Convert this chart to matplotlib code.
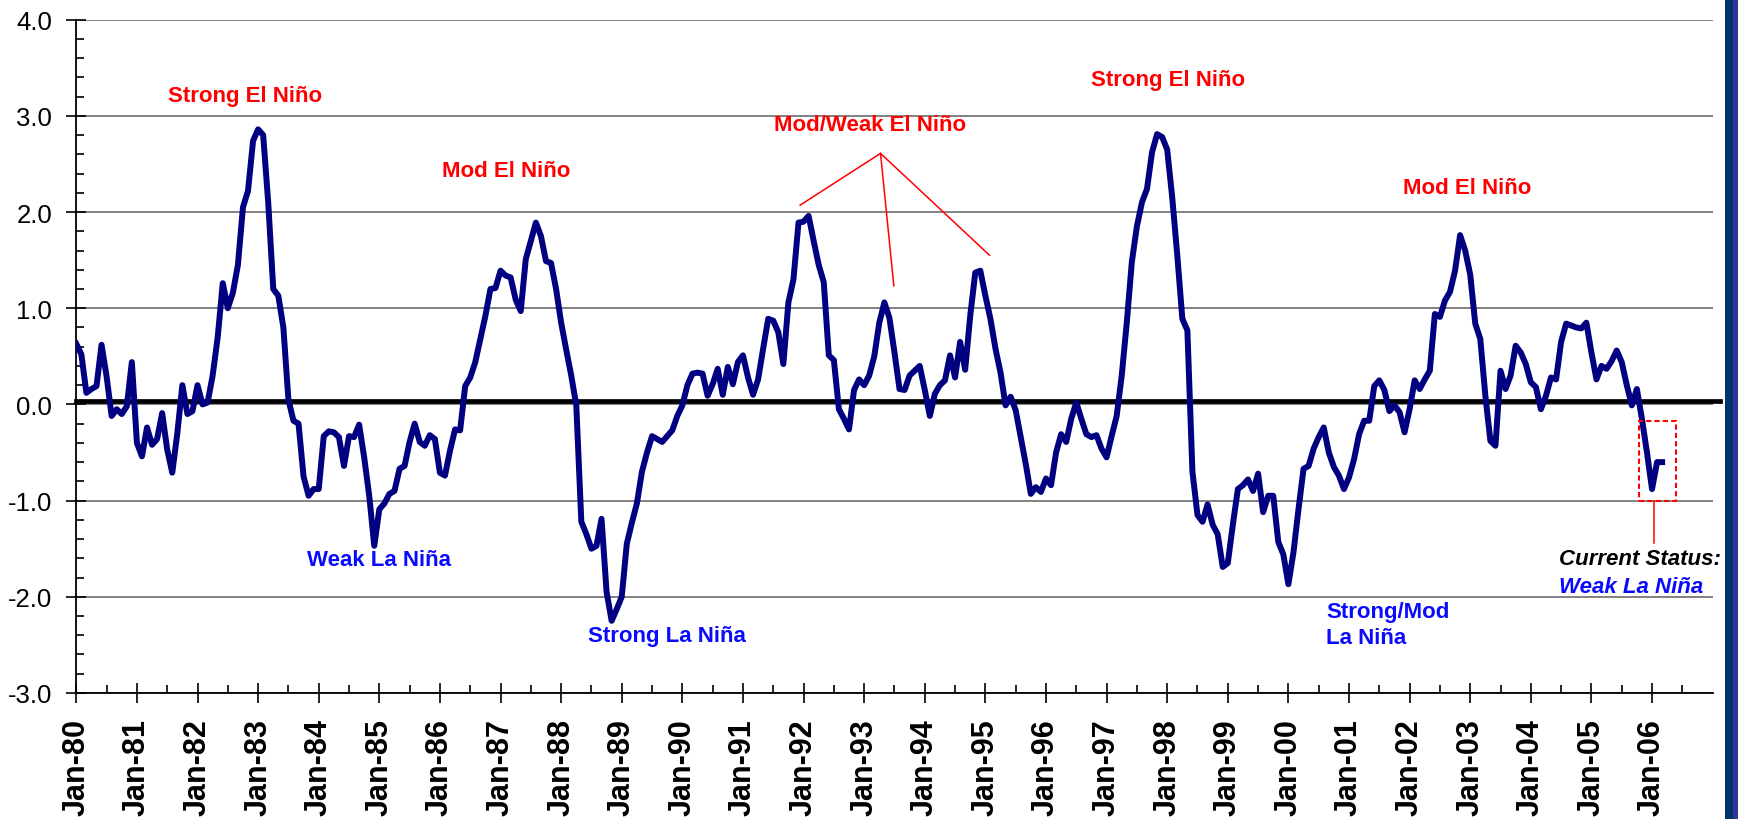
import numpy as np
import matplotlib.pyplot as plt
from matplotlib.patches import Rectangle

plt.rcParams['font.family'] = ['Liberation Sans', 'DejaVu Sans']
plt.rcParams['axes.unicode_minus'] = False

# monthly index values, Jan-80 .. Mar-06
start_year = 1980
anomaly = [
    0.63, 0.52, 0.12, 0.16, 0.19, 0.62, 0.29, -0.12, -0.05, -0.10, -0.02, 0.44,      # 1980
    -0.40, -0.54, -0.24, -0.42, -0.36, -0.09, -0.47, -0.71, -0.30, 0.20, -0.10, -0.07, # 1981
    0.20, 0.00, 0.02, 0.30, 0.70, 1.26, 1.00, 1.16, 1.45, 2.05, 2.22, 2.74,          # 1982
    2.86, 2.80, 2.10, 1.20, 1.13, 0.80, 0.05, -0.17, -0.20, -0.75, -0.95, -0.88,     # 1983
    -0.88, -0.33, -0.28, -0.29, -0.34, -0.64, -0.33, -0.34, -0.21, -0.55, -0.95, -1.47, # 1984
    -1.09, -1.03, -0.93, -0.90, -0.67, -0.64, -0.39, -0.20, -0.39, -0.43, -0.32, -0.36, # 1985
    -0.71, -0.74, -0.48, -0.26, -0.27, 0.19, 0.28, 0.44, 0.68, 0.92, 1.20, 1.21,     # 1986
    1.39, 1.34, 1.32, 1.09, 0.97, 1.51, 1.70, 1.89, 1.75, 1.49, 1.47, 1.20,          # 1987
    0.85, 0.57, 0.30, -0.01, -1.22, -1.35, -1.50, -1.47, -1.19, -1.95, -2.25, -2.13, # 1988
    -2.00, -1.45, -1.23, -1.03, -0.70, -0.50, -0.33, -0.36, -0.39, -0.33, -0.27, -0.12, # 1989
    -0.01, 0.20, 0.32, 0.33, 0.32, 0.09, 0.21, 0.37, 0.10, 0.39, 0.21, 0.44,         # 1990
    0.51, 0.28, 0.10, 0.26, 0.58, 0.89, 0.87, 0.75, 0.42, 1.06, 1.30, 1.89,          # 1991
    1.90, 1.96, 1.70, 1.45, 1.27, 0.51, 0.46, -0.05, -0.15, -0.26, 0.15, 0.26,       # 1992
    0.20, 0.30, 0.50, 0.85, 1.06, 0.90, 0.54, 0.16, 0.15, 0.30, 0.35, 0.40,          # 1993
    0.15, -0.12, 0.11, 0.20, 0.25, 0.51, 0.28, 0.65, 0.36, 0.92, 1.37, 1.39,         # 1994
    1.13, 0.89, 0.58, 0.33, -0.01, 0.08, -0.06, -0.34, -0.62, -0.93, -0.86, -0.91,   # 1995
    -0.77, -0.84, -0.50, -0.31, -0.39, -0.15, 0.02, -0.15, -0.31, -0.34, -0.32, -0.46, # 1996
    -0.55, -0.33, -0.12, 0.30, 0.85, 1.48, 1.85, 2.10, 2.24, 2.62, 2.81, 2.78,       # 1997
    2.65, 2.15, 1.55, 0.89, 0.77, -0.70, -1.15, -1.22, -1.04, -1.25, -1.35, -1.69,   # 1998
    -1.65, -1.25, -0.88, -0.84, -0.78, -0.90, -0.72, -1.12, -0.95, -0.95, -1.43, -1.56, # 1999
    -1.87, -1.54, -1.09, -0.67, -0.64, -0.46, -0.34, -0.24, -0.50, -0.65, -0.74, -0.88, # 2000
    -0.76, -0.57, -0.31, -0.17, -0.17, 0.19, 0.25, 0.15, -0.07, -0.01, -0.08, -0.29, # 2001
    -0.05, 0.25, 0.16, 0.26, 0.35, 0.94, 0.91, 1.08, 1.17, 1.39, 1.76, 1.60,         # 2002
    1.35, 0.84, 0.68, 0.09, -0.38, -0.43, 0.35, 0.16, 0.30, 0.61, 0.54, 0.42,        # 2003
    0.23, 0.18, -0.05, 0.09, 0.28, 0.26, 0.65, 0.84, 0.82, 0.80, 0.79, 0.85,         # 2004
    0.54, 0.26, 0.40, 0.37, 0.45, 0.56, 0.44, 0.20, -0.01, 0.16, -0.15, -0.50,       # 2005
    -0.88, -0.60, -0.60,                                                              # 2006
]
zero_level = 0.035

year_ticks = list(range(1980, 2007))
year_labels = ['Jan-%02d' % (y % 100) for y in year_ticks]
y_ticks = [-3, -2, -1, 0, 1, 2, 3, 4]
y_labels = ['%.1f' % v for v in y_ticks]

months = start_year + np.arange(len(anomaly)) / 12.0

fig = plt.figure(figsize=(17.38, 8.2), dpi=100)
ax = fig.add_axes([0.0439, 0.1537, 0.9415, 0.8211])

ax.plot(months, anomaly, color='#000080', lw=4.3, solid_joinstyle='round', zorder=4)
ax.plot([start_year, 2007.12], [zero_level, zero_level], color='black', lw=3.4,
        clip_on=False, zorder=3)

ax.set_xlim(1980, 2007)
ax.set_ylim(-3, 4)

# y axis
ax.set_yticks(y_ticks)
ax.set_yticklabels(y_labels)
ax.set_yticks([v / 5 for v in range(-15, 20) if v % 5], minor=True)
ax.tick_params(axis='y', which='major', direction='inout', length=13.7, width=1.2,
               labelsize=18.5, pad=10.5, colors='black')
ax.tick_params(axis='y', which='minor', direction='in', length=5.8, width=1.2)

# x axis
ax.set_xticks(year_ticks)
ax.set_xticklabels(year_labels, rotation=90, fontweight='bold', fontsize=22)
ax.set_xticks([y + 0.5 for y in year_ticks], minor=True)
ax.tick_params(axis='x', which='major', direction='inout', length=14.4, width=1.2, pad=11)
ax.tick_params(axis='x', which='minor', direction='in', length=5.8, width=1.2)

ax.grid(axis='y', which='major', color='#777777', lw=1.3)
ax.set_axisbelow(True)
for s in ['top', 'right']:
    ax.spines[s].set_visible(False)
for s in ['left', 'bottom']:
    ax.spines[s].set_linewidth(1.3)
    ax.spines[s].set_color('black')

# event labels
red = '#ff0000'
blue = '#0a0aff'
ax.text(1982.78, 3.21, 'Strong El Niño', color=red, fontsize=16, fontweight='bold', ha='center', va='center')
ax.text(1987.10, 2.43, 'Mod El Niño', color=red, fontsize=16, fontweight='bold', ha='center', va='center')
ax.text(1993.09, 2.91, 'Mod/Weak El Niño', color=red, fontsize=16, fontweight='bold', ha='center', va='center')
ax.text(1998.02, 3.38, 'Strong El Niño', color=red, fontsize=16, fontweight='bold', ha='center', va='center')
ax.text(2002.95, 2.26, 'Mod El Niño', color=red, fontsize=16, fontweight='bold', ha='center', va='center')
ax.text(1985.00, -1.61, 'Weak La Niña', color=blue, fontsize=16, fontweight='bold', ha='center', va='center')
ax.text(1989.74, -2.40, 'Strong La Niña', color=blue, fontsize=16, fontweight='bold', ha='center', va='center')
ax.text(2000.62, -2.29, 'Strong/Mod\nLa Niña', color=blue, fontsize=16, fontweight='bold',
        ha='left', va='center', linespacing=1.3)
ax.text(2004.47, -1.60, 'Current Status:', color='black', fontsize=16, fontweight='bold',
        style='italic', ha='left', va='center')
ax.text(2004.47, -1.89, 'Weak La Niña', color=blue, fontsize=16, fontweight='bold',
        style='italic', ha='left', va='center')

# leader lines for the Mod/Weak label
apex = (1993.27, 2.61)
for end in [(1991.94, 2.07), (1993.49, 1.23), (1995.07, 1.55)]:
    ax.annotate('', xy=end, xytext=apex,
                arrowprops=dict(arrowstyle='-', color=red, lw=1.1, shrinkA=0, shrinkB=0))

# current status box
ax.add_patch(Rectangle((2005.78, -1.005), 0.61, 0.828, fill=False, ec=red, lw=1.5,
                       ls=(0, (2.5, 1.5)), zorder=5))
ax.plot([2006.04, 2006.04], [-1.005, -1.445], color=red, lw=1.1, zorder=5)

# blue strip on the right edge
fig.add_artist(Rectangle((1725 / 1738, 0), 8 / 1738, 1, transform=fig.transFigure,
                         color='#003366', lw=0))
fig.add_artist(Rectangle((1733 / 1738, 0), 5 / 1738, 1, transform=fig.transFigure,
                         color='#333399', lw=0))

fig.savefig('out.png', dpi=100)
